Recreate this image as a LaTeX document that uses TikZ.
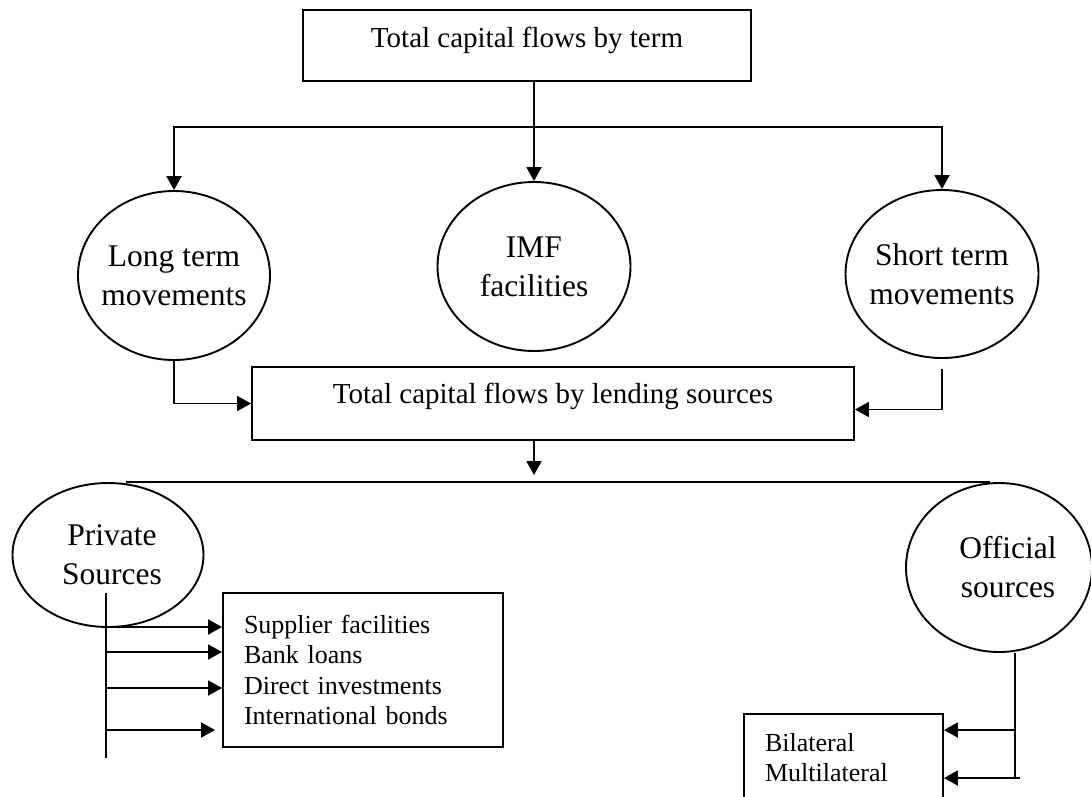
\documentclass[tikz,border=0pt]{standalone}
\usepackage{fontspec}
\setmainfont{Liberation Serif}
\usetikzlibrary{arrows.meta,shapes.geometric}

\begin{document}
\begin{tikzpicture}[
        x=1pt, y=-1pt,
        >={Triangle[length=14pt,width=15pt]},
        bigbox/.style={
            draw=black,
            line width=1.9pt,
            align=center,
            inner sep=0pt,
            font=\fontsize{29}{35}\selectfont
        },
        listbox/.style={
            draw=black,
            line width=1.9pt,
            align=left,
            inner xsep=21pt,
            inner ysep=0pt,
            font=\fontsize{26}{30.3}\selectfont
        },
        bubble/.style={draw=black, ellipse, line width=1.9pt, inner sep=0pt},
        bubtext/.style={align=center, font=\fontsize{31.5}{39}\selectfont},
        arrow/.style={->, line width=1.9pt, draw=black},
        link/.style={line width=1.9pt, draw=black}
    ]
        \path[use as bounding box, fill=white] (0,0) rectangle (1091,796);

        \node[bigbox, minimum width=448pt, minimum height=71pt, text depth=17pt] (term) at (527,45.5) {Total capital flows by term};
        \node[bubble, minimum width=192pt, minimum height=169pt, label={[bubtext]center:Long term\\movements}] (long) at (174,275.5) {};
        \node[bubble, minimum width=193pt, minimum height=169pt, label={[bubtext]center:IMF\\facilities}] (imf) at (534,266.5) {};
        \node[bubble, minimum width=193pt, minimum height=168pt, label={[bubtext]center:Short term\\movements}] (short) at (942,274) {};
        \node[bigbox, minimum width=602pt, minimum height=73pt, text depth=21pt] (lend) at (553,403.5) {Total capital flows by lending sources};
        \node[bubble, minimum width=191pt, minimum height=144pt, label={[bubtext, xshift=4pt]center:Private\\Sources}] (priv) at (108,555) {};
        \node[bubble, minimum width=186pt, minimum height=169pt, label={[bubtext, xshift=9pt]center:Official\\sources}] (offc) at (999,567.5) {};
        \node[listbox, text width=238pt, minimum height=154pt] (items) at (363,670) {Supplier facilities\\Bank loans\\Direct investments\\International bonds};
        \node[listbox, text width=157pt, minimum height=87pt] (bilat) at (843.5,757.5) {Bilateral\\Multilateral};

        % by term
        \draw[arrow] (term.south -| imf.north) -- (imf.north);
        \coordinate (split) at (imf.north |- 0,127);
        \draw[arrow] (split) -| (long.north);
        \draw[arrow] (split) -| (short.north);
        \draw[arrow] (long.south) |- (lend.west);
        \draw[arrow] ([yshift=-10pt]short.south) |- ([yshift=-6pt]lend.east);

        % by lending sources
        \coordinate (fork) at (imf.north |- 0,475);
        \draw[arrow] (lend.south -| imf.north) -- (fork);
        \draw[link] ([xshift=18pt]priv.north) -- ([xshift=-9pt]offc.north);

        \coordinate (ptop) at (106,593);
        \coordinate (pbot) at (106,758);
        \draw[link] (ptop) -- (pbot);
        \foreach \yy in {627,652,688}
            \draw[arrow] (ptop |- 0,\yy) -- (items.west |- 0,\yy);
        \draw[arrow] (ptop |- 0,730) -- ([xshift=-7pt]items.west |- 0,730);

        \coordinate (otop) at ([xshift=16pt]offc.south);
        \coordinate (obot) at (otop |- 0,778);
        \draw[link] (otop) -- (obot);
        \draw[arrow] (otop |- 0,730) -- (bilat.east |- 0,730);
        \draw[arrow] ([xshift=5pt]obot) -- (bilat.east |- obot);
    \end{tikzpicture}
\end{document}
